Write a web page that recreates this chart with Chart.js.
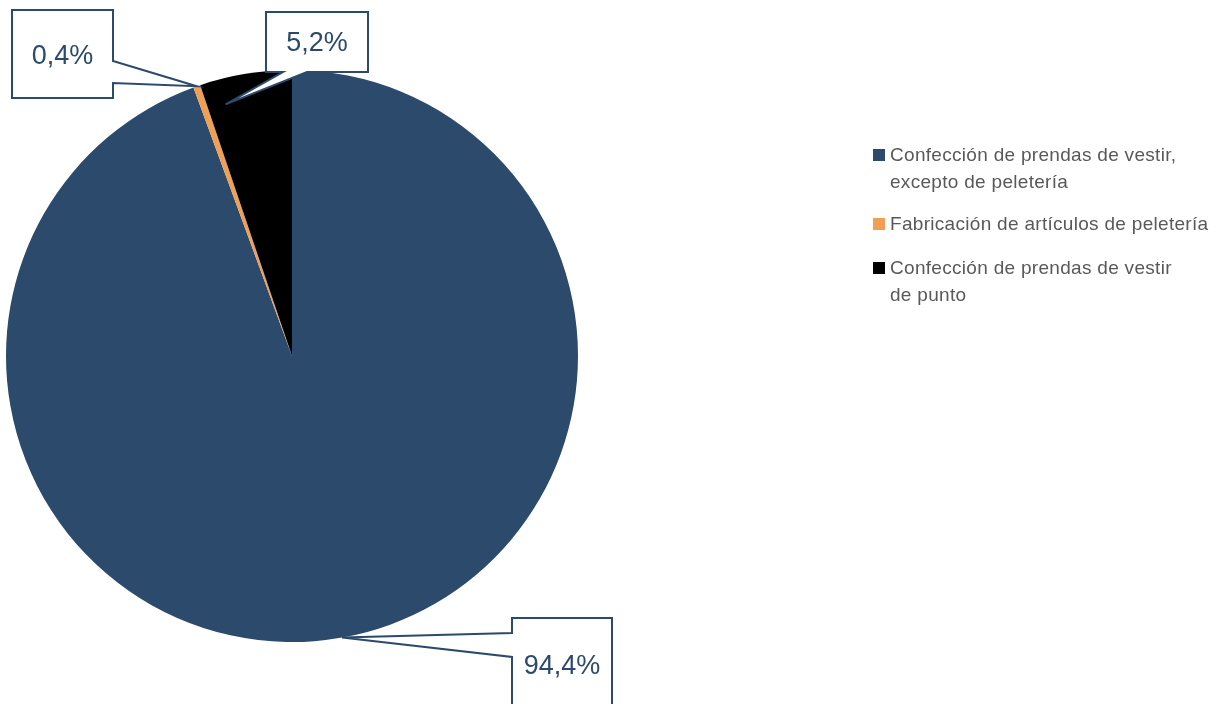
<!DOCTYPE html>
<html><head><meta charset="utf-8">
<script src="https://cdn.jsdelivr.net/npm/chart.js@4.4.0/dist/chart.umd.min.js"></script>
<style>html,body{margin:0;padding:0;background:#fff;}#wrap{width:1220px;height:704px;}</style>
</head><body><div id="wrap"><canvas id="c" width="1220" height="704"></canvas></div>
<script>
const categories = [
  ["Confección de prendas de vestir,", "excepto de peletería"],
  ["Fabricación de artículos de peletería"],
  ["Confección de prendas de vestir", "de punto"]
];
const values = [94.4, 0.4, 5.2];
const valueLabels = values.map(v => v.toFixed(1).replace('.', ',') + '%');

const BLUE = '#2C4A6B';
const colors = [BLUE, '#F0A054', '#000000'];

// callout layout (annotation boxes) and where their pointers meet each slice
const callouts = [
  { box: {x: 512, y: 618, w: 100, h: 100}, side: 'left',   base: [633, 657], frac: 0.5,  rf: 1.0,  ty: 667 },
  { box: {x: 12,  y: 10,  w: 101, h: 88},  side: 'right',  base: [61, 83],   frac: 0.5,  rf: 1.0,  ty: 57 },
  { box: {x: 266, y: 12,  w: 102, h: 60},  side: 'bottom', base: [283, 307], frac: 0.21, rf: 0.91, ty: 44 }
];

const calloutPlugin = {
  id: 'callouts',
  afterDraw(chart) {
    const ctx = chart.ctx;
    const meta = chart.getDatasetMeta(0);
    meta.data.forEach((arc, i) => {
      const c = callouts[i];
      const p = arc.getProps(['x','y','startAngle','endAngle','outerRadius'], true);
      const a = p.startAngle + c.frac * (p.endAngle - p.startAngle);
      const tx = p.x + Math.cos(a) * p.outerRadius * c.rf;
      const ty = p.y + Math.sin(a) * p.outerRadius * c.rf;
      const {x, y, w, h} = c.box;
      ctx.save();
      ctx.beginPath();
      if (c.side === 'right') {
        ctx.moveTo(x, y); ctx.lineTo(x + w, y); ctx.lineTo(x + w, c.base[0]);
        ctx.lineTo(tx, ty); ctx.lineTo(x + w, c.base[1]); ctx.lineTo(x + w, y + h);
        ctx.lineTo(x, y + h); ctx.closePath();
      } else if (c.side === 'bottom') {
        ctx.moveTo(x, y); ctx.lineTo(x + w, y); ctx.lineTo(x + w, y + h);
        ctx.lineTo(c.base[1], y + h); ctx.lineTo(tx, ty); ctx.lineTo(c.base[0], y + h);
        ctx.lineTo(x, y + h); ctx.closePath();
      } else {
        ctx.moveTo(x, y); ctx.lineTo(x + w, y); ctx.lineTo(x + w, y + h);
        ctx.lineTo(x, y + h); ctx.lineTo(x, c.base[1]); ctx.lineTo(tx, ty);
        ctx.lineTo(x, c.base[0]); ctx.closePath();
      }
      ctx.fillStyle = '#ffffff';
      ctx.fill();
      ctx.lineWidth = 2;
      ctx.lineJoin = 'miter';
      ctx.strokeStyle = BLUE;
      ctx.stroke();
      ctx.fillStyle = BLUE;
      ctx.font = '27px "Liberation Sans", Arial, sans-serif';
      ctx.textAlign = 'center';
      ctx.textBaseline = 'middle';
      ctx.fillText(valueLabels[i], x + w / 2, c.ty);
      ctx.restore();
    });
  }
};

const legendPlugin = {
  id: 'sideLegend',
  afterDraw(chart) {
    const ctx = chart.ctx;
    const ys = [155, 224, 268];
    ctx.save();
    ctx.font = '19px "Liberation Sans", Arial, sans-serif';
    if ('letterSpacing' in ctx) ctx.letterSpacing = '0.3px';
    ctx.textBaseline = 'middle';
    ctx.textAlign = 'left';
    chart.data.labels.forEach((lab, i) => {
      ctx.fillStyle = chart.data.datasets[0].backgroundColor[i];
      ctx.fillRect(873, ys[i] - 6, 12, 12);
      ctx.fillStyle = '#595959';
      lab.forEach((line, j) => ctx.fillText(line, 890, ys[i] + 1 + j * 27));
    });
    ctx.restore();
  }
};

new Chart(document.getElementById('c'), {
  type: 'pie',
  data: {
    labels: categories,
    datasets: [{ data: values, backgroundColor: colors, borderWidth: 0 }]
  },
  options: {
    responsive: false,
    animation: false,
    layout: { padding: { left: 6, top: 70, right: 642, bottom: 62 } },
    plugins: { legend: { display: false }, tooltip: { enabled: false } }
  },
  plugins: [calloutPlugin, legendPlugin]
});
</script>
</body></html>
